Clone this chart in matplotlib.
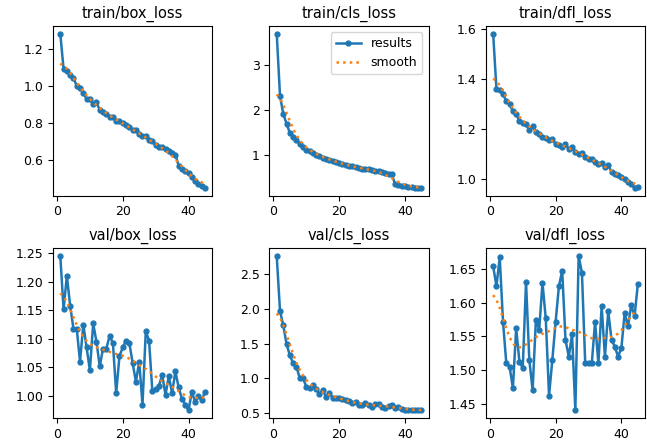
import matplotlib
matplotlib.use("Agg")
import matplotlib.pyplot as plt
import numpy as np

# epochs
epochs = list(range(1, 46))

train_box_loss = [1.28, 1.09, 1.08, 1.06, 1.04, 1.00, 0.99, 0.96, 0.93, 0.93,
                  0.90, 0.91, 0.87, 0.86, 0.85, 0.83, 0.83, 0.81, 0.81, 0.80,
                  0.79, 0.78, 0.76, 0.76, 0.74, 0.73, 0.73, 0.71, 0.70, 0.68,
                  0.67, 0.67, 0.66, 0.65, 0.64, 0.63, 0.57, 0.55, 0.54, 0.53,
                  0.51, 0.49, 0.47, 0.46, 0.45]

train_cls_loss = [3.70, 2.32, 1.92, 1.70, 1.50, 1.42, 1.35, 1.25, 1.18, 1.13,
                  1.10, 1.06, 1.02, 0.99, 0.95, 0.93, 0.90, 0.88, 0.86, 0.84,
                  0.82, 0.79, 0.77, 0.76, 0.74, 0.72, 0.71, 0.70, 0.69, 0.67,
                  0.66, 0.65, 0.64, 0.62, 0.60, 0.59, 0.36, 0.34, 0.33, 0.32,
                  0.31, 0.30, 0.29, 0.28, 0.28]

train_dfl_loss = [1.58, 1.36, 1.355, 1.34, 1.31, 1.30, 1.27, 1.26, 1.23, 1.225,
                  1.22, 1.195, 1.21, 1.19, 1.18, 1.17, 1.165, 1.155, 1.16, 1.14,
                  1.135, 1.13, 1.14, 1.12, 1.13, 1.11, 1.10, 1.105, 1.09, 1.08,
                  1.08, 1.07, 1.06, 1.065, 1.05, 1.055, 1.03, 1.02, 1.015, 1.01,
                  1.00, 0.99, 0.98, 0.965, 0.97]

val_box_loss = [1.245, 1.152, 1.21, 1.158, 1.118, 1.118, 1.06, 1.125, 1.085, 1.045,
                1.127, 1.095, 1.052, 1.083, 1.083, 1.105, 1.093, 1.005, 1.07, 1.085,
                1.097, 1.093, 1.058, 1.025, 1.06, 0.985, 1.113, 1.097, 1.008, 1.013,
                1.018, 1.037, 1.002, 1.035, 1.005, 1.043, 1.015, 0.995, 0.985, 0.975,
                1.007, 0.99, 1.0, 0.993, 1.007]

val_cls_loss = [2.76, 1.97, 1.76, 1.49, 1.33, 1.22, 1.17, 1.00, 1.00, 0.88,
                0.86, 0.90, 0.84, 0.78, 0.83, 0.73, 0.79, 0.72, 0.72, 0.72,
                0.70, 0.69, 0.67, 0.64, 0.66, 0.61, 0.61, 0.64, 0.62, 0.59,
                0.63, 0.63, 0.59, 0.58, 0.60, 0.61, 0.58, 0.59, 0.56, 0.54,
                0.55, 0.54, 0.55, 0.54, 0.54]

val_dfl_loss = [1.655, 1.625, 1.668, 1.572, 1.51, 1.505, 1.473, 1.562, 1.512, 1.503,
                1.631, 1.515, 1.47, 1.575, 1.56, 1.63, 1.577, 1.462, 1.515, 1.572,
                1.625, 1.648, 1.545, 1.52, 1.553, 1.44, 1.67, 1.645, 1.51, 1.51,
                1.51, 1.572, 1.51, 1.595, 1.52, 1.588, 1.545, 1.535, 1.52, 1.533,
                1.585, 1.565, 1.597, 1.58, 1.628]

titles = ["train/box_loss", "train/cls_loss", "train/dfl_loss",
          "val/box_loss", "val/cls_loss", "val/dfl_loss"]
series = [train_box_loss, train_cls_loss, train_dfl_loss,
          val_box_loss, val_cls_loss, val_dfl_loss]


def gaussian_smooth(y, sigma=3.0, truncate=4.0):
    # same as scipy gaussian_filter1d with mode='reflect'
    y = np.asarray(y, dtype=float)
    r = int(truncate * sigma + 0.5)
    k = np.exp(-0.5 * (np.arange(-r, r + 1) / sigma) ** 2)
    k /= k.sum()
    padded = np.concatenate([y[:r][::-1], y, y[-r:][::-1]])
    return np.convolve(padded, k, mode="valid")


fig, axes = plt.subplots(2, 3, figsize=(6.47, 4.4), dpi=100)
fig.subplots_adjust(left=0.082, right=0.997, bottom=0.05, top=0.941,
                    wspace=0.36, hspace=0.31)

for ax, title, y in zip(axes.ravel(), titles, series):
    ax.plot(epochs, y, marker='.', label='results', linewidth=1.8, markersize=7)
    ax.plot(epochs, gaussian_smooth(y), ':', label='smooth', linewidth=1.8)
    ax.set_title(title, fontsize=10.5)
    ax.tick_params(labelsize=9)
    ax.set_xticks([0, 20, 40])

axes[0, 1].legend(fontsize=9)

plt.savefig("out.png")
plt.close()
